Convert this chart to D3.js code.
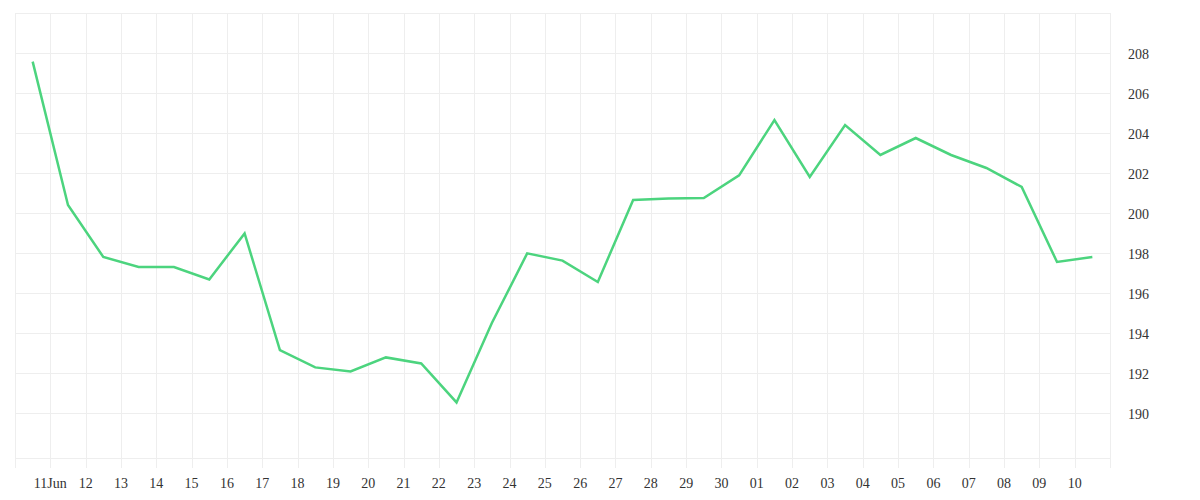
<!DOCTYPE html>
<html>
<head>
<meta charset="utf-8">
<script src="https://cdn.jsdelivr.net/npm/d3@7"></script>
<style>
  html, body { margin: 0; padding: 0; background: #fff; }
  text { font-family: "Liberation Serif", "DejaVu Serif", serif; font-size: 14px; fill: #333; }
</style>
</head>
<body>
<div id="vis"></div>
<script>
// daily closes, sampled at midday, 10 Jun .. 10 Jul
const days = [
  "2024-06-10", "2024-06-11", "2024-06-12", "2024-06-13", "2024-06-14", "2024-06-15",
  "2024-06-16", "2024-06-17", "2024-06-18", "2024-06-19", "2024-06-20", "2024-06-21",
  "2024-06-22", "2024-06-23", "2024-06-24", "2024-06-25", "2024-06-26", "2024-06-27",
  "2024-06-28", "2024-06-29", "2024-06-30", "2024-07-01", "2024-07-02", "2024-07-03",
  "2024-07-04", "2024-07-05", "2024-07-06", "2024-07-07", "2024-07-08", "2024-07-09",
  "2024-07-10"
];
const values = [
  207.57, 200.4, 197.8, 197.3, 197.3, 196.68,
  198.98, 193.15, 192.28, 192.08, 192.78, 192.48,
  190.53, 194.5, 197.98, 197.62, 196.55, 200.65,
  200.73, 200.75, 201.88, 204.65, 201.8, 204.4,
  202.9, 203.75, 202.9, 202.25, 201.3, 197.55,
  197.8
];
const yTicks = [190, 192, 194, 196, 198, 200, 202, 204, 206, 208];
const yDomain = [187.75, 210];

const width = 1200, height = 500;
const margin = { left: 15, right: 1110, top: 13, bottom: 458 };

const parse = d3.utcParse("%Y-%m-%d");
const data = days.map((d, i) => ({ date: d3.utcHour.offset(parse(d), 12), value: values[i] }));

const start = parse(days[0]);
const end = d3.utcDay.offset(parse(days[days.length - 1]), 1);

const x = d3.scaleUtc().domain([start, end]).range([margin.left, margin.right]);
const y = d3.scaleLinear().domain(yDomain).range([margin.bottom, margin.top]);

const svg = d3.select("#vis").append("svg")
    .attr("width", width)
    .attr("height", height);

const gridColor = "#eeeeee";
const dayTicks = d3.utcDay.range(start, d3.utcDay.offset(end, 1));

// vertical grid, running down past the bottom edge as ticks
svg.append("g").selectAll("line")
    .data(dayTicks)
    .enter().append("line")
    .attr("x1", d => Math.round(x(d)) + 0.5)
    .attr("x2", d => Math.round(x(d)) + 0.5)
    .attr("y1", margin.top)
    .attr("y2", margin.bottom + 10)
    .attr("stroke", gridColor);

// horizontal grid plus top and bottom edges
svg.append("g").selectAll("line")
    .data(yTicks.concat(yDomain))
    .enter().append("line")
    .attr("x1", margin.left)
    .attr("x2", margin.right)
    .attr("y1", d => Math.round(y(d)) + 0.5)
    .attr("y2", d => Math.round(y(d)) + 0.5)
    .attr("stroke", gridColor);

// y labels on the right
svg.append("g").selectAll("text")
    .data(yTicks)
    .enter().append("text")
    .attr("x", 1128)
    .attr("y", d => y(d) + 1.5)
    .attr("dy", "0.35em")
    .text(d => d);

// x labels, first one carries the month
const fmtDay = d3.utcFormat("%d");
const fmtFirst = d3.utcFormat("%d%b");
const labelDays = dayTicks.slice(1, -1);
svg.append("g").selectAll("text")
    .data(labelDays)
    .enter().append("text")
    .attr("x", d => x(d))
    .attr("y", 483)
    .attr("dy", "0.35em")
    .attr("text-anchor", "middle")
    .text((d, i) => i === 0 ? fmtFirst(d) : fmtDay(d));

const line = d3.line()
    .x(d => x(d.date))
    .y(d => y(d.value));

svg.append("path")
    .datum(data)
    .attr("fill", "none")
    .attr("stroke", "#4cd47e")
    .attr("stroke-width", 2.5)
    .attr("stroke-linejoin", "miter")
    .attr("d", line);
</script>
</body>
</html>
